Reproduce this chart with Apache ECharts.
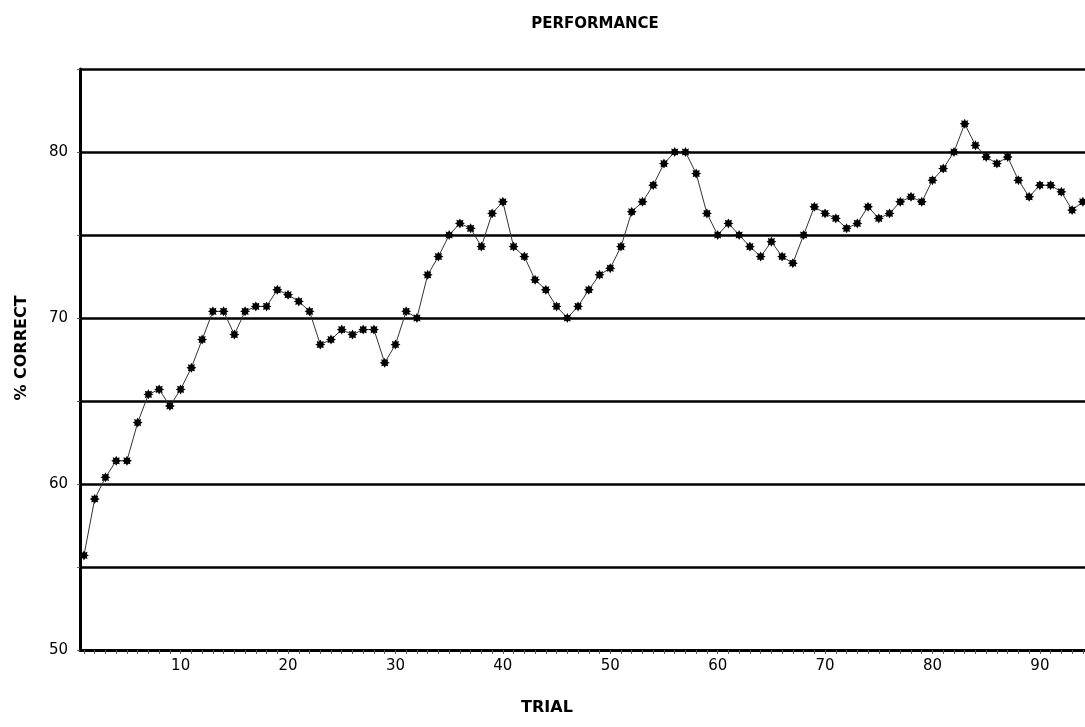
<!DOCTYPE html>
<html><head><meta charset="utf-8">
<script src="https://cdn.jsdelivr.net/npm/echarts@6/dist/echarts.min.js"></script>
<style>html,body{margin:0;padding:0;background:#fff}#c{width:1085px;height:727px}</style>
</head><body><div id="c"></div>
<script>
const values = [
  55.7, 59.1, 60.4, 61.4, 61.4, 63.7, 65.4, 65.7, 64.7, 65.7,
  67.0, 68.7, 70.4, 70.4, 69.0, 70.4, 70.7, 70.7, 71.7, 71.4,
  71.0, 70.4, 68.4, 68.7, 69.3, 69.0, 69.3, 69.3, 67.3, 68.4,
  70.4, 70.0, 72.6, 73.7, 75.0, 75.7, 75.4, 74.3, 76.3, 77.0,
  74.3, 73.7, 72.3, 71.7, 70.7, 70.0, 70.7, 71.7, 72.6, 73.0,
  74.3, 76.4, 77.0, 78.0, 79.3, 80.0, 80.0, 78.7, 76.3, 75.0,
  75.7, 75.0, 74.3, 73.7, 74.6, 73.7, 73.3, 75.0, 76.7, 76.3,
  76.0, 75.4, 75.7, 76.7, 76.0, 76.3, 77.0, 77.3, 77.0, 78.3,
  79.0, 80.0, 81.7, 80.4, 79.7, 79.3, 79.7, 78.3, 77.3, 78.0,
  78.0, 77.6, 76.5, 77.0
];
const trials = values.map((v, i) => i + 1);
const xTickLabels = [10, 20, 30, 40, 50, 60, 70, 80, 90];
const yTickLabels = [50, 60, 70, 80];
const minorTicks = [];
for (let t = 1; t <= 94; t++) minorTicks.push(t);

// 8-point star marker
let p = '';
for (let k = 0; k < 16; k++) {
  const a = k * Math.PI / 8;
  const r = (k % 2) ? 0.62 : 1;
  const x = (Math.cos(a) * r * 10 + 10).toFixed(2), y = (Math.sin(a) * r * 10 + 10).toFixed(2);
  p += (k === 0 ? 'M' : 'L') + x + ' ' + y + ' ';
}
p += 'Z';

const FONT = 'DejaVu Sans';
const chart = echarts.init(document.getElementById('c'));
chart.setOption({
  animation: false,
  backgroundColor: '#fff',
  grid: { left: 80, right: 0, top: 69, bottom: 77, show: false },
  xAxis: {
    type: 'value', min: 0.63, max: 94.2,
    axisLine: { show: true, lineStyle: { color: '#000', width: 3 } },
    axisTick: { show: true, customValues: minorTicks, length: 4, lineStyle: { color: '#555', width: 1 } },
    axisLabel: { customValues: xTickLabels, fontSize: 15, color: '#000', margin: 9, fontFamily: FONT },
    splitLine: { show: false }
  },
  yAxis: {
    type: 'value', min: 50, max: 85, interval: 5,
    axisLine: { show: true, lineStyle: { color: '#000', width: 3 } },
    axisTick: { show: true, length: 3, lineStyle: { color: '#555', width: 1 } },
    axisLabel: { fontSize: 15, color: '#000', margin: 12, fontFamily: FONT,
      formatter: v => yTickLabels.indexOf(v) >= 0 ? String(v) : '' },
    splitLine: { show: true, lineStyle: { color: '#000', width: 2.5 } }
  },
  graphic: [
    { type: 'text', x: 595, y: 17, style: { text: 'PERFORMANCE', font: 'bold 15px "DejaVu Sans"', fill: '#000', textAlign: 'center' } },
    { type: 'text', x: 547, y: 700, style: { text: 'TRIAL', font: 'bold 16px "DejaVu Sans"', fill: '#000', textAlign: 'center' } },
    { type: 'text', x: 22, y: 348, rotation: Math.PI / 2, style: { text: '% CORRECT', font: 'bold 16px "DejaVu Sans"', fill: '#000', textAlign: 'center', textVerticalAlign: 'middle' } }
  ],
  series: [{
    type: 'line',
    data: trials.map((t, i) => [t, values[i]]),
    symbol: 'path://' + p,
    symbolSize: 10,
    showSymbol: true,
    itemStyle: { color: '#000' },
    lineStyle: { color: '#333', width: 1 },
    clip: false
  }]
});
</script></body></html>
